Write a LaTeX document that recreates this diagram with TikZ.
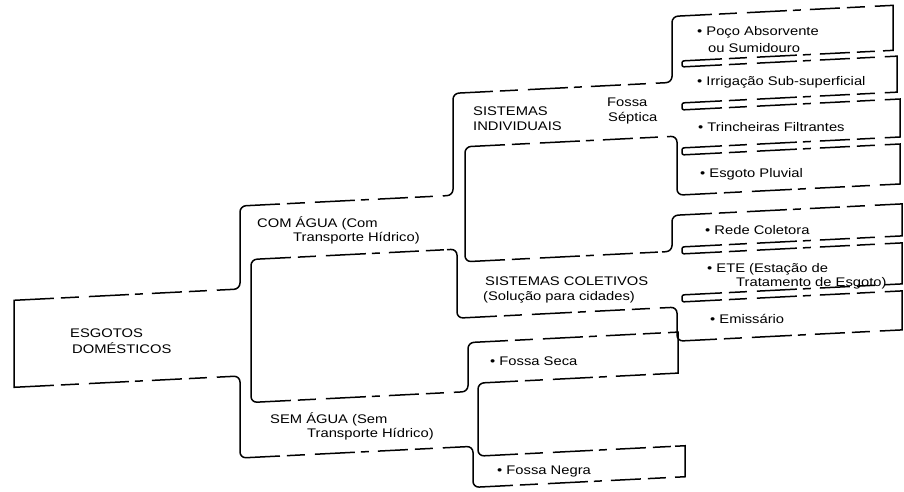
\documentclass[tikz,border=0pt]{standalone}
\usepackage{fontspec}
\setmainfont{Liberation Sans}[FakeStretch=1.18]
\begin{document}
\begin{tikzpicture}[
  lbl/.style={anchor=base west, inner sep=0pt, font=\fontsize{12.5}{14}\selectfont},
  hd/.style={line width=1.5pt, dash pattern=on 30pt off 7pt on 18pt off 10pt on 40pt off 6pt on 8pt off 9pt},
  vs/.style={line width=1.5pt, rounded corners=6pt, line join=round},
  cs/.style={line width=1.5pt, rounded corners=2pt},
  ks/.style={line width=1.5pt, line join=miter}
]
\useasboundingbox (0,0) rectangle (904pt,-491pt);
\begin{scope}[x=1pt,y=-1pt,yslant=0.05]
% root
\draw[ks] (24,301) -- (14,301) -- (14,388) -- (24,388);
\draw[hd] (24,301) -- (230,301);
\draw[hd] (24,388) -- (230,388);
% root top -> COM top
\draw[vs] (230,301) -- (240,301) -- (240,218) -- (250,218);
\draw[hd] (250,218) -- (443,218);
% COM top -> SI top
\draw[vs] (443,218) -- (453,218) -- (453,116) -- (463,116);
\draw[hd] (463,116) -- (662,116);
% SI top -> Poco
\draw[vs] (662,116) -- (672,116) -- (672,50) -- (682,50);
\draw[hd] (682,50) -- (883,50);
\draw[ks] (883,50) -- (893,50) -- (893,95) -- (883,95);
\draw[hd] (692,95) -- (883,95);
\draw[cs] (692,95) -- (682,95) -- (682,101) -- (692,101);
% Irrigacao
\draw[hd] (692,101) -- (887,101);
\draw[ks] (887,101) -- (897,101) -- (897,137) -- (887,137);
\draw[hd] (692,137) -- (887,137);
\draw[cs] (692,137) -- (682,137) -- (682,144) -- (692,144);
% Trincheiras
\draw[hd] (692,144) -- (890,144);
\draw[ks] (890,144) -- (900,144) -- (900,182) -- (890,182);
\draw[hd] (692,182) -- (890,182);
\draw[cs] (692,182) -- (682,182) -- (682,189) -- (692,189);
% Esgoto Pluvial
\draw[hd] (692,189) -- (890,189);
\draw[ks] (890,189) -- (900,189) -- (900,229) -- (890,229);
\draw[hd] (687,229) -- (890,229);
\draw[vs] (687,229) -- (677,229) -- (677,170) -- (667,170);
% SI bottom -> SC top
\draw[hd] (475,170) -- (667,170);
\draw[vs] (475,170) -- (465,170) -- (465,285) -- (475,285);
\draw[hd] (475,285) -- (662,285);
% SC top -> Rede
\draw[vs] (662,285) -- (672,285) -- (672,249) -- (682,249);
\draw[hd] (682,249) -- (892,249);
\draw[ks] (892,249) -- (902,249) -- (902,281) -- (892,281);
\draw[hd] (692,281) -- (892,281);
\draw[cs] (692,281) -- (682,281) -- (682,288) -- (692,288);
% ETE
\draw[hd] (692,288) -- (892,288);
\draw[ks] (892,288) -- (902,288) -- (902,329) -- (892,329);
\draw[hd] (692,329) -- (892,329);
\draw[cs] (692,329) -- (682,329) -- (682,336) -- (692,336);
% Emissario
\draw[hd] (692,336) -- (892,336);
\draw[ks] (892,336) -- (902,336) -- (902,375) -- (892,375);
\draw[hd] (687,375) -- (892,375);
\draw[vs] (687,375) -- (677,375) -- (677,341) -- (667,341);
% SC bottom -> COM bottom
\draw[hd] (467,341) -- (667,341);
\draw[vs] (467,341) -- (457,341) -- (457,272) -- (447,272);
\draw[hd] (261,272) -- (447,272);
% COM bottom -> SEM top
\draw[vs] (261,272) -- (251,272) -- (251,415) -- (261,415);
\draw[hd] (261,415) -- (458,415);
% SEM top -> Fossa Seca
\draw[vs] (458,415) -- (468,415) -- (468,366) -- (478,366);
\draw[hd] (478,366) -- (668,366);
\draw[ks] (668,366) -- (678,366) -- (678,407) -- (668,407);
\draw[hd] (488,407) -- (668,407);
\draw[vs] (488,407) -- (478,407) -- (478,480) -- (488,480);
% Fossa Negra
\draw[hd] (488,480) -- (675,480);
\draw[ks] (675,480) -- (685,480) -- (685,511) -- (675,511);
\draw[hd] (483,511) -- (675,511);
\draw[vs] (483,511) -- (473,511) -- (473,470) -- (463,470);
% SEM bottom -> root bottom
\draw[hd] (250,470) -- (463,470);
\draw[vs] (250,470) -- (240,470) -- (240,388) -- (230,388);

% texts
\node[lbl] (t1) at (70,341) {ESGOTOS};
\node[lbl] (t2) at (72,357) {DOMÉSTICOS};
\node[lbl] (t3) at (257,240) {COM ÁGUA (Com};
\node[lbl] (t4) at (293,256) {Transporte Hídrico)};
\node[lbl] (t5) at (270,437) {SEM ÁGUA (Sem};
\node[lbl] (t6) at (307,453) {Transporte Hídrico)};
\node[lbl] (t7) at (473,139) {SISTEMAS};
\node[lbl] (t8) at (473,154) {INDIVIDUAIS};
\node[lbl] (t9) at (607,137) {Fossa};
\node[lbl] (t10) at (608,152) {Séptica};
\node[lbl] (t11) at (485,310) {SISTEMAS COLETIVOS};
\node[lbl] (t12) at (483,325) {(Solução para cidades)};
\node[lbl] (t13) at (697,70) {• Poço Absorvente};
\node[lbl] (t14) at (708,88) {ou Sumidouro};
\node[lbl] (t15) at (697,120) {• Irrigação Sub-superficial};
\node[lbl] (t16) at (698,166) {• Trincheiras Filtrantes};
\node[lbl] (t17) at (700,212) {• Esgoto Pluvial};
\node[lbl] (t18) at (705,270) {• Rede Coletora};
\node[lbl] (t19) at (707,308) {• ETE (Estação de};
\node[lbl] (t20) at (736,323) {Tratamento de Esgoto)};
\node[lbl] (t21) at (710,359) {• Emissário};
\node[lbl] (t22) at (490,390) {• Fossa Seca};
\node[lbl] (t23) at (497,499) {• Fossa Negra};
\end{scope}
\end{tikzpicture}
\end{document}
